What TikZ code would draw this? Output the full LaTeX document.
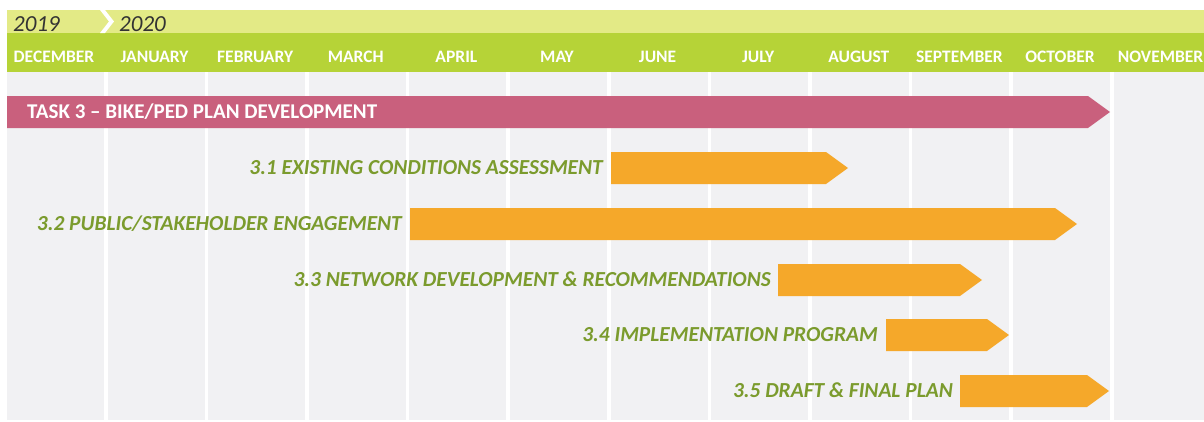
\documentclass[tikz,border=0pt]{standalone}
\usepackage{fontspec}
\setmainfont{Carlito}
\definecolor{yearband}{HTML}{E3EA86}
\definecolor{monthband}{HTML}{B6D337}
\definecolor{colgray}{HTML}{F1F1F3}
\definecolor{taskpink}{HTML}{C9607D}
\definecolor{subbar}{HTML}{F5A82A}
\definecolor{labelgreen}{HTML}{7B9B2D}
\definecolor{yeartext}{HTML}{333333}
\newcommand\gbar[5]{% colour, left x, tip x, top y, bottom y
  \fill[#1] (#2,#4) -- ({#3-22},#4) -- (#3,{(#4+#5)/2}) -- ({#3-22},#5) -- (#2,#5) -- cycle;}
\begin{document}
\begin{tikzpicture}[x=1pt,y=-1pt,
  month/.style={font=\fontsize{17.5}{17.5}\selectfont\bfseries, text=white, inner sep=0, anchor=base},
  year/.style={font=\fontsize{23}{23}\selectfont\itshape, text=yeartext, inner sep=0, anchor=base west},
  lbl/.style={font=\fontsize{21.4}{21.4}\selectfont\bfseries\itshape, text=labelgreen, inner sep=0, anchor=base east},
  tasklbl/.style={font=\fontsize{21}{21}\selectfont\bfseries, text=white, inner sep=0, anchor=base west}]
\useasboundingbox (0,0) rectangle (1204,421);
\fill[white] (0,0) rectangle (1204,421);
% month columns
\fill[colgray] (7,72) rectangle (1204,420);
\foreach \k in {0,...,10}
  \fill[white] ({104+100.6*\k},72) rectangle ++(3.5,348);
% header bands
\fill[yearband] (7,10) rectangle (1204,33);
\fill[monthband] (7,33) rectangle (1204,72);
\fill[white] (100,10) -- (105,10) -- (114,21.5) -- (105,33) -- (100,33) -- (109,21.5) -- cycle;
\node[year] (y2019) at (13,31) {2019};
\node[year] (y2020) at (119,31) {2020};
\foreach \m [count=\i from 0] in {DECEMBER,JANUARY,FEBRUARY,MARCH,APRIL,MAY,JUNE,JULY,AUGUST,SEPTEMBER,OCTOBER,NOVEMBER}
  \node[month] (m\i) at ({54+100.6*\i},62) {\m};
% task and sub-task bars
\gbar{taskpink}{7}{1110}{96}{128}
\node[tasklbl] (task) at (27,118.5) {TASK 3 – BIKE/PED PLAN DEVELOPMENT};
\gbar{subbar}{611}{848}{152}{184}
\node[lbl] (t31) at (603,174.5) {3.1 EXISTING CONDITIONS ASSESSMENT};
\gbar{subbar}{410}{1077}{208}{240}
\node[lbl] (t32) at (402,230.5) {3.2 PUBLIC/STAKEHOLDER ENGAGEMENT};
\gbar{subbar}{778}{982}{264}{296}
\node[lbl] (t33) at (771,286.5) {3.3 NETWORK DEVELOPMENT \& RECOMMENDATIONS};
\gbar{subbar}{886}{1009}{319}{351}
\node[lbl] (t34) at (878,341.5) {3.4 IMPLEMENTATION PROGRAM};
\gbar{subbar}{960}{1109}{375}{407}
\node[lbl] (t35) at (953,397.5) {3.5 DRAFT \& FINAL PLAN};
\end{tikzpicture}
\end{document}
